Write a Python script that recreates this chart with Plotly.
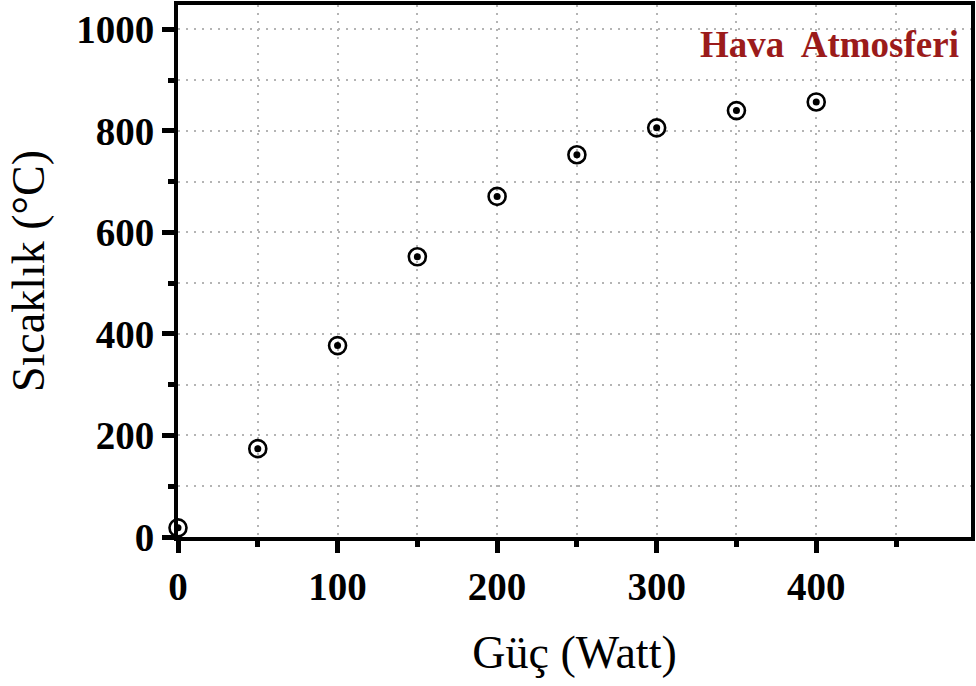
import plotly.graph_objects as go

# Heating power vs. reached temperature (air atmosphere)
power_w = [0, 50, 100, 150, 200, 250, 300, 350, 400]
temperature_c = [18, 174, 377, 552, 671, 753, 806, 840, 857]

x_ticks = [0, 100, 200, 300, 400]
y_ticks = [0, 200, 400, 600, 800, 1000]

serif = "Liberation Serif"

fig = go.Figure()

# open ring
fig.add_trace(go.Scatter(
    x=power_w, y=temperature_c, mode="markers",
    marker=dict(symbol="circle-open", size=17, color="black",
                line=dict(width=2.6, color="black")),
    hoverinfo="x+y", showlegend=False, cliponaxis=False,
))
# centre dot
fig.add_trace(go.Scatter(
    x=power_w, y=temperature_c, mode="markers",
    marker=dict(symbol="circle", size=7, color="black", line=dict(width=0)),
    hoverinfo="skip", showlegend=False, cliponaxis=False,
))

grid = dict(showgrid=True, gridcolor="#b4b4b4", gridwidth=1.6, griddash="2px,6px")

fig.update_xaxes(
    range=[0, 497], tickvals=x_ticks, ticktext=[str(v) for v in x_ticks],
    ticks="outside", ticklen=12, tickwidth=5, tickcolor="black",
    showline=True, linewidth=4, linecolor="black", mirror=True,
    zeroline=False,
    tickfont=dict(family=serif, size=39, color="black", weight="bold"),
    ticklabelstandoff=0,
    minor=dict(dtick=50, tick0=0, ticks="outside", ticklen=6, tickwidth=5,
               tickcolor="black", **grid),
    title=dict(text="Güç (Watt)", font=dict(family=serif, size=46, color="black"),
               standoff=30),
    **grid,
)
fig.update_yaxes(
    range=[0, 1048], tickvals=y_ticks, ticktext=[str(v) for v in y_ticks],
    ticks="outside", ticklen=12, tickwidth=5, tickcolor="black",
    showline=True, linewidth=4, linecolor="black", mirror=True,
    zeroline=False,
    tickfont=dict(family=serif, size=39, color="black", weight="bold"),
    minor=dict(dtick=100, tick0=0, ticks="outside", ticklen=6, tickwidth=5,
               tickcolor="black", **grid),
    title=dict(text="Sıcaklık (°C)", font=dict(family=serif, size=46, color="black"),
               standoff=18),
    **grid,
)

fig.add_annotation(
    text="Hava  Atmosferi", xref="paper", yref="paper",
    x=0.988, y=0.925, xanchor="right", yanchor="middle", showarrow=False,
    font=dict(family=serif, size=37, color="#9b1b1b", weight="bold"),
)

fig.update_layout(
    width=976, height=686,
    margin=dict(l=178, r=1, t=4, b=149),
    plot_bgcolor="white", paper_bgcolor="white",
)

fig.write_html("out.html")
